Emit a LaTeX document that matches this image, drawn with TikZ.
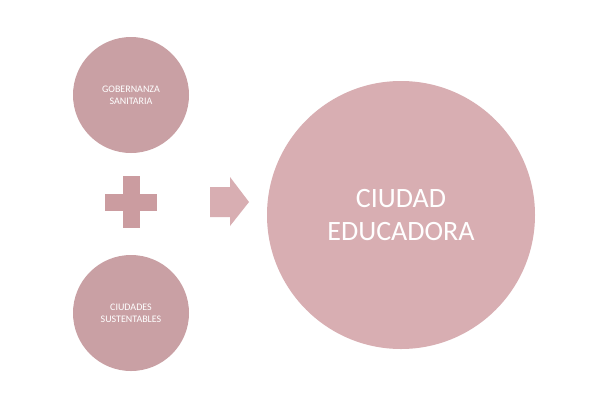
\documentclass[tikz,border=0pt]{standalone}
\usepackage{fontspec}
\setmainfont{Carlito}
\definecolor{smallc}{HTML}{C9A0A4}
\definecolor{bigc}{HTML}{D8AEB2}
\definecolor{plusc}{HTML}{CB9CA0}
\definecolor{arrc}{HTML}{D8AEB2}
\tikzset{x=1pt,y=-1pt,
 circ/.style={circle,fill=smallc,text=white,align=center,font=\fontsize{10}{12}\selectfont,inner sep=0pt}}
\begin{document}
\begin{tikzpicture}
\useasboundingbox[fill=white] (0,0) rectangle (600,400);
\node[circ,minimum size=116pt] (g) at (131,95) {GOBERNANZA\\SANITARIA};
\node[circ,minimum size=116pt] (c) at (131,313) {CIUDADES\\SUSTENTABLES};
\node[circ,fill=bigc,minimum size=268pt,font=\fontsize{28}{33}\selectfont] (e) at (401,215) {CIUDAD\\EDUCADORA};
\node[fill=plusc,minimum width=52pt,minimum height=17pt,inner sep=0pt] (ph) at (131,202) {};
\node[fill=plusc,minimum width=17pt,minimum height=52pt,inner sep=0pt] (pv) at (131,202) {};
\fill[arrc] (210,187) -- (230,187) -- (230,177) -- (249,202) -- (230,226) -- (230,217) -- (210,217) -- cycle;
\end{tikzpicture}
\end{document}
